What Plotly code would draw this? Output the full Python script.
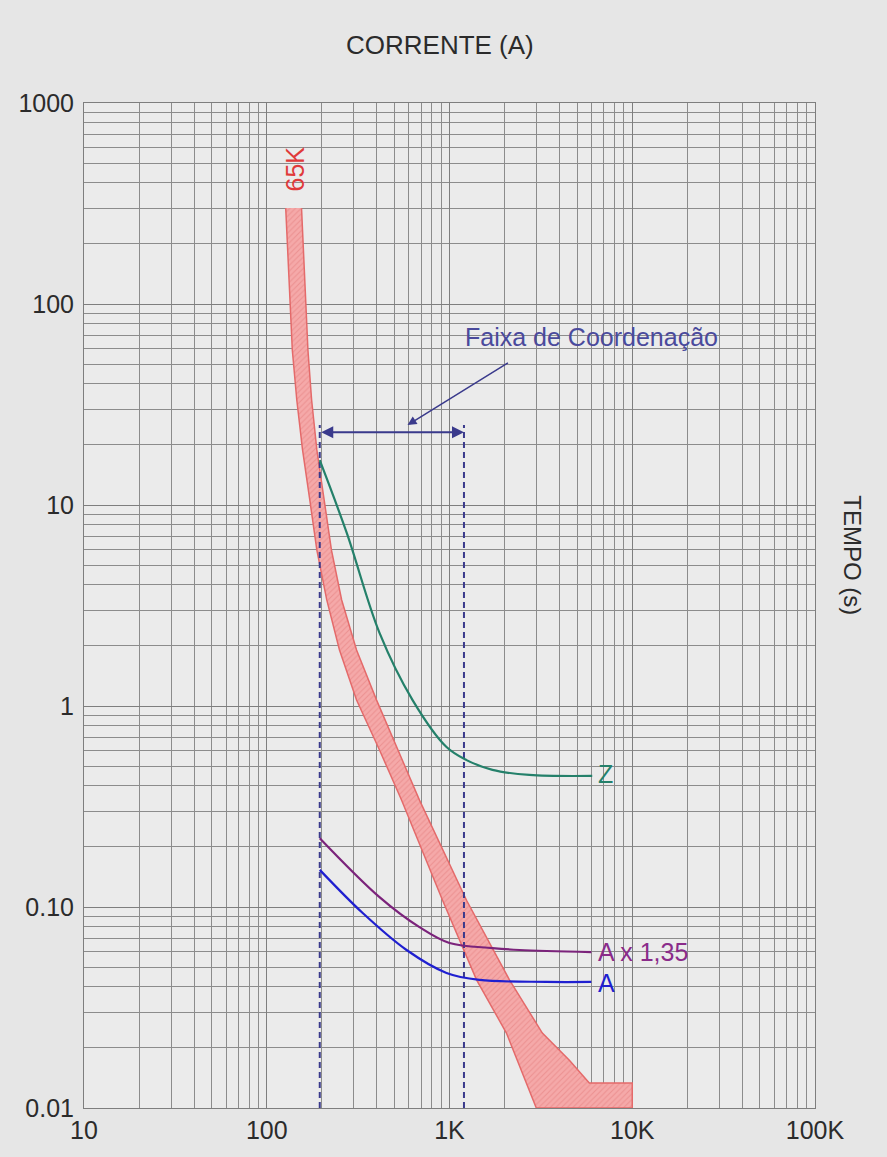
import numpy as np
import plotly.graph_objects as go

# faixa do elo 65K (bordas esquerda e direita)
band_left_x = [127, 138, 146, 157, 172, 188, 213, 250, 310, 414, 547, 916, 1406, 2049, 2985]
band_left_y = [300, 59, 33.3, 18.8, 10.6, 5.97, 3.37, 1.90, 1.07, 0.604, 0.34, 0.108, 0.0434, 0.0236, 0.01]
band_right_x = [155, 168, 176, 188, 207, 226, 257, 310, 399, 520, 685, 1239, 2128, 3221, 4528, 5821, 10000, 10000]
band_right_y = [300, 59, 33.3, 18.8, 10.6, 5.97, 3.37, 1.90, 1.07, 0.604, 0.34, 0.108, 0.0434, 0.0236, 0.0173, 0.0133, 0.0133, 0.01]

z_x = [195, 274, 414, 628, 963, 1240, 1718, 2735, 6040]
z_y = [16.7, 7.26, 2.31, 1.07, 0.625, 0.538, 0.481, 0.454, 0.449]

a135_x = [195, 414, 685, 1000, 1718, 2415, 5970]
a135_y = [0.220, 0.112, 0.0794, 0.0662, 0.0625, 0.0611, 0.0597]

a_x = [195, 335, 582, 963, 1459, 3388, 5970]
a_y = [0.153, 0.0933, 0.0611, 0.0470, 0.0434, 0.0424, 0.0424]

coord_limits = [195, 1200]
coord_top = 25
coord_arrow_y = 23

x_ticks = [10, 100, 1000, 10000, 100000]
x_labels = ["10", "100", "1K", "10K", "100K"]
y_ticks = [0.01, 0.1, 1, 10, 100, 1000]
y_labels = ["0.01", "0.10", "1", "10", "100", "1000"]

FONT = "Liberation Sans, Arial, sans-serif"
NAVY = "#3a3a8c"

fig = go.Figure()

fig.add_trace(go.Scatter(
    x=band_left_x + band_right_x[::-1],
    y=band_left_y + band_right_y[::-1],
    mode="lines",
    fill="toself",
    fillcolor="#f4a3a3",
    fillpattern=dict(shape="/", size=4, solidity=0.25, fgcolor="#e27878", bgcolor="#f5a9a9"),
    line=dict(color="#e46a6a", width=1.5),
    hoverinfo="skip",
))

for xv in coord_limits:
    fig.add_trace(go.Scatter(
        x=[xv, xv], y=[0.01, coord_top],
        mode="lines",
        line=dict(color=NAVY, width=2, dash="6px,4px"),
        hoverinfo="skip",
    ))

fig.add_trace(go.Scatter(x=z_x, y=z_y, mode="lines", line=dict(color="#24806a", width=2.2, shape="spline")))
fig.add_trace(go.Scatter(x=a135_x, y=a135_y, mode="lines", line=dict(color="#7b237b", width=2.2, shape="spline")))
fig.add_trace(go.Scatter(x=a_x, y=a_y, mode="lines", line=dict(color="#1f1fd0", width=2.2, shape="spline")))

lg = np.log10

# seta dupla da faixa de coordenação
fig.add_annotation(
    x=lg(coord_limits[1]), y=lg(coord_arrow_y),
    ax=lg(coord_limits[0]), ay=lg(coord_arrow_y),
    xref="x", yref="y", axref="x", ayref="y",
    text="", showarrow=True, arrowhead=2, arrowside="end+start",
    arrowsize=1.2, arrowwidth=2, arrowcolor=NAVY,
)
fig.add_annotation(
    x=lg(589), y=lg(25), ax=lg(2128), ay=lg(51.5),
    xref="x", yref="y", axref="x", ayref="y",
    text="", showarrow=True, arrowhead=2, arrowsize=1.2, arrowwidth=1.5, arrowcolor=NAVY,
)
fig.add_annotation(
    x=lg(5970), y=lg(68.5), text="Faixa de Coordenação", showarrow=False,
    font=dict(family=FONT, size=25, color="#4a4a9c"),
)

fig.add_annotation(
    x=lg(142), y=lg(470), text="65K", textangle=-90, showarrow=False,
    font=dict(family=FONT, size=25, color="#e03a3a"),
)
fig.add_annotation(x=lg(6300), y=lg(0.46), text="Z", showarrow=False, xanchor="left",
                   font=dict(family=FONT, size=25, color="#24806a"))
fig.add_annotation(x=lg(6300), y=lg(0.0597), text="A x 1,35", showarrow=False, xanchor="left",
                   font=dict(family=FONT, size=25, color="#8a2b8a"))
fig.add_annotation(x=lg(6300), y=lg(0.0420), text="A", showarrow=False, xanchor="left",
                   font=dict(family=FONT, size=25, color="#1f1fd0"))

fig.add_annotation(x=0.487, y=1.058, xref="paper", yref="paper", text="CORRENTE (A)",
                   xanchor="center", yanchor="middle",
                   showarrow=False, font=dict(family=FONT, size=26, color="#2b2b2b"))
fig.add_annotation(x=1.052, y=0.55, xref="paper", yref="paper", text="TEMPO (s)", textangle=90,
                   xanchor="center", yanchor="middle",
                   showarrow=False, font=dict(family=FONT, size=24, color="#2b2b2b"))

fig.update_xaxes(
    type="log", range=[1, 5],
    tickvals=x_ticks, ticktext=x_labels,
    showgrid=True, gridcolor="#7e7e7e", gridwidth=1,
    minor=dict(showgrid=True, gridcolor="#8c8c8c", gridwidth=1, dtick="D1"),
    showline=True, linecolor="#7e7e7e", mirror=True,
    zeroline=False, ticks="",
    tickfont=dict(family=FONT, size=25, color="#2b2b2b"),
)
fig.update_yaxes(
    type="log", range=[-2, 3],
    tickvals=y_ticks, ticktext=y_labels,
    showgrid=True, gridcolor="#7e7e7e", gridwidth=1,
    minor=dict(showgrid=True, gridcolor="#8c8c8c", gridwidth=1, dtick="D1"),
    showline=True, linecolor="#7e7e7e", mirror=True,
    zeroline=False, ticks="", ticklabelstandoff=4,
    tickfont=dict(family=FONT, size=25, color="#2b2b2b"),
)

fig.update_layout(
    width=887, height=1157,
    margin=dict(l=84, r=72, t=103, b=49),
    paper_bgcolor="#e6e6e6",
    plot_bgcolor="#ebebeb",
    showlegend=False,
)

fig.write_html(
    "out.html",
    config={"displayModeBar": False},
    post_script="document.body.style.margin='0';",
)
